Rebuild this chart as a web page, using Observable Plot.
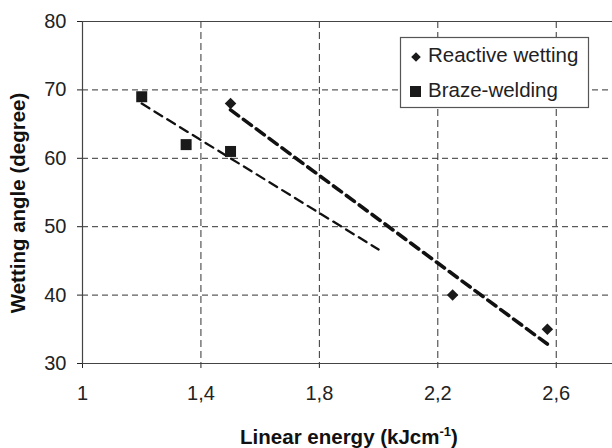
<!DOCTYPE html>
<html>
<head>
<meta charset="utf-8">
<script src="https://cdn.jsdelivr.net/npm/d3@7"></script>
<script src="https://cdn.jsdelivr.net/npm/@observablehq/plot@0.6"></script>
<style>
  html, body { margin: 0; padding: 0; background: #fff; }
  #chart svg { display: block; }
</style>
</head>
<body>
<div id="chart"></div>
<script>
// ---- data ----
const xTicks = [1, 1.4, 1.8, 2.2, 2.6];
const yTicks = [30, 40, 50, 60, 70, 80];
const xGrid = [1.4, 1.8, 2.2, 2.6];
const yGrid = [40, 50, 60, 70];

const reactiveX = [1.5, 2.25, 2.57];
const reactiveY = [68, 40, 35];
const brazeX = [1.2, 1.35, 1.5];
const brazeY = [69, 62, 61];

// extent over which each trend line is drawn
const reactiveTrendX = [1.5, 2.57];
const brazeTrendX = [1.2, 2.0];

const seriesNames = ["Reactive wetting", "Braze-welding"];

// ---- helpers ----
function fit(xs, ys) {
  const mx = d3.mean(xs), my = d3.mean(ys);
  let sxy = 0, sxx = 0;
  xs.forEach((x, i) => { sxy += (x - mx) * (ys[i] - my); sxx += (x - mx) ** 2; });
  const b = sxy / sxx, a = my - b * mx;
  return x => a + b * x;
}
const fr = fit(reactiveX, reactiveY);
const fb = fit(brazeX, brazeY);
const reactive = reactiveX.map((x, i) => ({x, y: reactiveY[i]}));
const braze = brazeX.map((x, i) => ({x, y: brazeY[i]}));
const reactiveTrend = reactiveTrendX.map(x => ({x, y: fr(x)}));
const brazeTrend = brazeTrendX.map(x => ({x, y: fb(x)}));

const fmt = d => String(d).replace(".", ",");
const ink = "#1a1a1a";

const chart = Plot.plot({
  width: 612,
  height: 448,
  marginLeft: 82,
  marginRight: 0,
  marginTop: 21,
  marginBottom: 85,
  style: {fontFamily: "'Liberation Sans', Arial, sans-serif", fontSize: "20px", color: "#222", background: "#fff"},
  x: {domain: [1, 2.79], ticks: xTicks, tickFormat: fmt, tickSize: 5, tickPadding: 17, label: null},
  y: {domain: [30, 80], ticks: yTicks, tickSize: 5, tickPadding: 11, label: null},
  marks: [
    Plot.gridX(xGrid, {stroke: "#333", strokeOpacity: 1, strokeWidth: 1, strokeDasharray: "7,4"}),
    Plot.gridY(yGrid, {stroke: "#333", strokeOpacity: 1, strokeWidth: 1, strokeDasharray: "6,4"}),
    Plot.ruleY([30, 80], {stroke: "#444", strokeWidth: 1.2}),
    Plot.ruleX([1], {stroke: "#444", strokeWidth: 1.2}),
    Plot.line(brazeTrend, {x: "x", y: "y", stroke: "#111", strokeWidth: 2.3, strokeDasharray: "9,6"}),
    Plot.line(reactiveTrend, {x: "x", y: "y", stroke: "#111", strokeWidth: 3.6, strokeDasharray: "10,6"}),
    Plot.dot(braze, {x: "x", y: "y", symbol: "square", r: 6.2, fill: ink, stroke: "none"}),
    Plot.dot(reactive, {x: "x", y: "y", symbol: "square", rotate: 45, r: 4.6, fill: ink, stroke: "none"})
  ]
});

// axis titles and legend, added into the same SVG
const svg = d3.select(chart);
const font = "'Liberation Sans', Arial, sans-serif";

const xt = svg.append("text")
  .attr("x", 349).attr("y", 444)
  .attr("text-anchor", "middle")
  .attr("font-family", font).attr("font-weight", "bold").attr("font-size", 20.5)
  .attr("fill", "#111");
xt.append("tspan").text("Linear energy (kJcm");
xt.append("tspan").attr("font-size", 13).attr("dy", -8).text("-1");
xt.append("tspan").attr("dy", 8).text(")");

svg.append("text")
  .attr("transform", "translate(25,203) rotate(-90)")
  .attr("text-anchor", "middle")
  .attr("font-family", font).attr("font-weight", "bold").attr("font-size", 20.5)
  .attr("fill", "#111")
  .text("Wetting angle (degree)");

const lg = svg.append("g").attr("text-anchor", "start");
lg.append("rect").attr("x", 400.5).attr("y", 37.5).attr("width", 188).attr("height", 70)
  .attr("fill", "#fff").attr("stroke", "#555").attr("stroke-width", 1.2);
lg.append("path").attr("d", d3.symbol(d3.symbolSquare, 46)())
  .attr("transform", "translate(416,57) rotate(45)").attr("fill", ink);
lg.append("rect").attr("x", 410).attr("y", 86).attr("width", 11).attr("height", 11).attr("fill", ink);
lg.append("text").attr("x", 428).attr("y", 62).attr("text-anchor", "start")
  .attr("font-family", font).attr("font-size", 20.5).attr("fill", "#222").text(seriesNames[0]);
lg.append("text").attr("x", 428).attr("y", 97).attr("text-anchor", "start")
  .attr("font-family", font).attr("font-size", 20.5).attr("fill", "#222").text(seriesNames[1]);

document.getElementById("chart").append(chart);
</script>
</body>
</html>
